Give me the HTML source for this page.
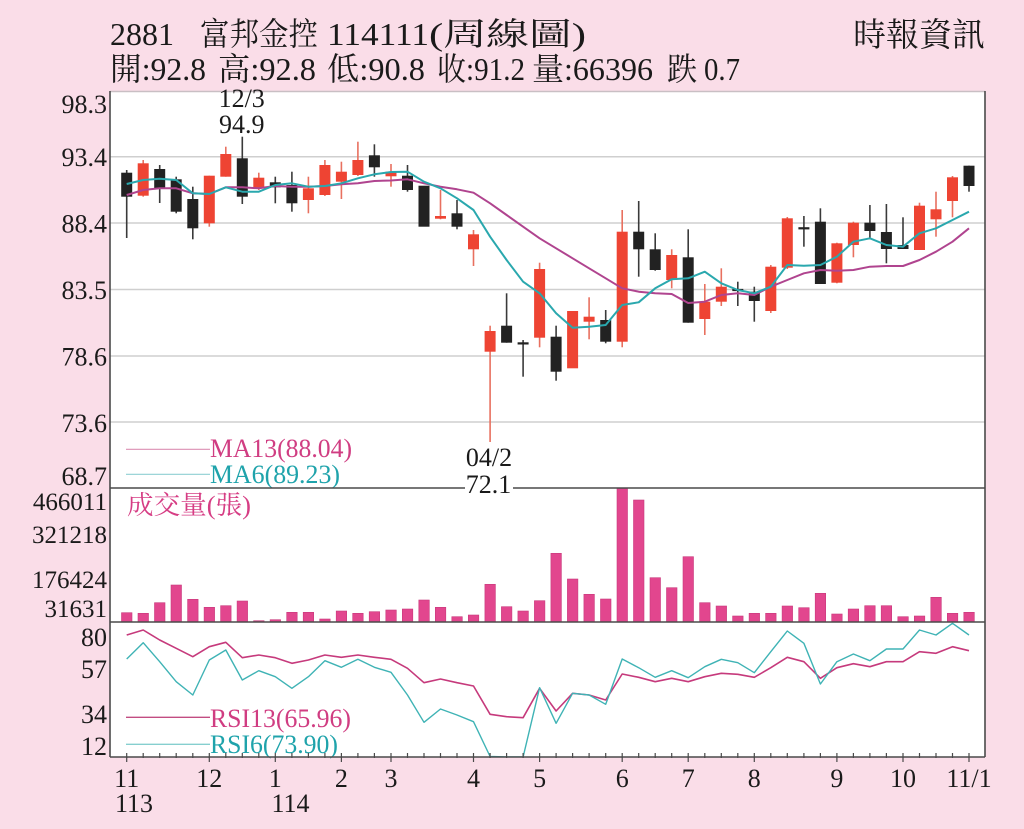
<!DOCTYPE html>
<html><head><meta charset="utf-8"><style>
html,body{margin:0;padding:0;background:#fadde8;}
svg{display:block;}
text{font-family:"Liberation Serif","Noto Serif CJK TC","Noto Serif CJK SC",serif;}
</style></head><body>
<svg width="1024" height="829" viewBox="0 0 1024 829" xmlns="http://www.w3.org/2000/svg">
<defs>
<clipPath id="rsiclip"><rect x="110" y="622" width="875" height="135"/></clipPath>
</defs>
<rect width="1024" height="829" fill="#fadde8"/>
<rect x="110" y="91" width="875" height="666" fill="#ffffff"/>

<g fill="#1a1a1a" font-size="32">
<text x="110" y="45" textLength="64" lengthAdjust="spacingAndGlyphs">2881</text>
<text x="200" y="45" textLength="118" lengthAdjust="spacingAndGlyphs">富邦金控</text>
<text x="327" y="45" textLength="102" lengthAdjust="spacingAndGlyphs">114111</text>
<text x="429" y="45" textLength="157" lengthAdjust="spacingAndGlyphs">(周線圖)</text>
<text x="110" y="80" textLength="96" lengthAdjust="spacingAndGlyphs">開:92.8</text>
<text x="218" y="80" textLength="98" lengthAdjust="spacingAndGlyphs">高:92.8</text>
<text x="327" y="80" textLength="98" lengthAdjust="spacingAndGlyphs">低:90.8</text>
<text x="437" y="80" textLength="88" lengthAdjust="spacingAndGlyphs">收:91.2</text>
<text x="532" y="80" textLength="121" lengthAdjust="spacingAndGlyphs">量:66396</text>
<text x="667" y="80" textLength="30" lengthAdjust="spacingAndGlyphs">跌</text>
<text x="704" y="80" textLength="36" lengthAdjust="spacingAndGlyphs">0.7</text>
<text x="853" y="46" font-size="33" textLength="132" lengthAdjust="spacingAndGlyphs">時報資訊</text>
</g>

<g stroke="#cfcfcf" stroke-width="1.5">
<line x1="110" y1="156.7" x2="985" y2="156.7"/>
<line x1="110" y1="223" x2="985" y2="223"/>
<line x1="110" y1="289.5" x2="985" y2="289.5"/>
<line x1="110" y1="356" x2="985" y2="356"/>
<line x1="110" y1="422" x2="985" y2="422"/>
</g>
<line x1="110" y1="91.5" x2="985" y2="91.5" stroke="#c9bfc4" stroke-width="1.5"/>

<g fill="#1a1a1a" font-size="26" text-anchor="end">
<text x="107" y="113">98.3</text>
<text x="107" y="166">93.4</text>
<text x="107" y="232.5">88.4</text>
<text x="107" y="299">83.5</text>
<text x="107" y="365.5">78.6</text>
<text x="107" y="432">73.6</text>
<text x="107" y="485">68.7</text>
<text x="107" y="510" font-size="25">466011</text>
<text x="107" y="543" font-size="25">321218</text>
<text x="107" y="588" font-size="25">176424</text>
<text x="107" y="617" font-size="25">31631</text>
<text x="107" y="646">80</text>
<text x="107" y="678">57</text>
<text x="107" y="723">34</text>
<text x="107" y="755">12</text>
</g>

<g stroke-width="1.6">
<g stroke="#3a3a3a">
<line x1="126.7" y1="170" x2="126.7" y2="238"/>
<line x1="159.7" y1="165" x2="159.7" y2="203"/>
<line x1="176.2" y1="176.7" x2="176.2" y2="213.3"/>
<line x1="192.8" y1="186.7" x2="192.8" y2="239.3"/>
<line x1="242.3" y1="136.7" x2="242.3" y2="204"/>
<line x1="275.3" y1="176.7" x2="275.3" y2="203.3"/>
<line x1="291.9" y1="171.7" x2="291.9" y2="211.7"/>
<line x1="374.4" y1="144.3" x2="374.4" y2="176.7"/>
<line x1="407.5" y1="165" x2="407.5" y2="191.7"/>
<line x1="457" y1="200" x2="457" y2="229.3"/>
<line x1="506.6" y1="293.3" x2="506.6" y2="342.7"/>
<line x1="523.1" y1="340" x2="523.1" y2="376.7"/>
<line x1="556.1" y1="325.7" x2="556.1" y2="380.7"/>
<line x1="605.7" y1="310" x2="605.7" y2="343.3"/>
<line x1="638.7" y1="201" x2="638.7" y2="276.7"/>
<line x1="655.2" y1="233.3" x2="655.2" y2="270.7"/>
<line x1="688.2" y1="229.3" x2="688.2" y2="322.7"/>
<line x1="737.8" y1="281.7" x2="737.8" y2="306"/>
<line x1="754.3" y1="286.7" x2="754.3" y2="321.7"/>
<line x1="803.9" y1="216" x2="803.9" y2="246.7"/>
<line x1="820.4" y1="208.3" x2="820.4" y2="284"/>
<line x1="869.9" y1="205" x2="869.9" y2="239.3"/>
<line x1="886.4" y1="204" x2="886.4" y2="263.3"/>
<line x1="903" y1="217.3" x2="903" y2="249"/>
<line x1="969" y1="165.7" x2="969" y2="191.7"/>
</g>
<g stroke="#e8705f">
<line x1="143.2" y1="160" x2="143.2" y2="196.7"/>
<line x1="209.3" y1="175.7" x2="209.3" y2="226.7"/>
<line x1="225.8" y1="146.7" x2="225.8" y2="176.7"/>
<line x1="258.8" y1="172.7" x2="258.8" y2="190"/>
<line x1="308.4" y1="176.7" x2="308.4" y2="213.3"/>
<line x1="324.9" y1="160" x2="324.9" y2="196"/>
<line x1="341.4" y1="161.7" x2="341.4" y2="199"/>
<line x1="357.9" y1="141.7" x2="357.9" y2="176"/>
<line x1="391" y1="164" x2="391" y2="186.7"/>
<line x1="440.5" y1="190" x2="440.5" y2="219.3"/>
<line x1="473.5" y1="230" x2="473.5" y2="266"/>
<line x1="490.1" y1="325.7" x2="490.1" y2="442"/>
<line x1="539.6" y1="262.7" x2="539.6" y2="347.3"/>
<line x1="589.1" y1="297.3" x2="589.1" y2="339.3"/>
<line x1="622.2" y1="210" x2="622.2" y2="347.3"/>
<line x1="671.7" y1="249.3" x2="671.7" y2="288.3"/>
<line x1="704.8" y1="284" x2="704.8" y2="335"/>
<line x1="721.3" y1="268.3" x2="721.3" y2="306"/>
<line x1="770.8" y1="265" x2="770.8" y2="313"/>
<line x1="787.3" y1="217" x2="787.3" y2="269"/>
<line x1="836.9" y1="242.7" x2="836.9" y2="283.3"/>
<line x1="853.4" y1="221.7" x2="853.4" y2="257.3"/>
<line x1="919.5" y1="202.7" x2="919.5" y2="250"/>
<line x1="936" y1="191.7" x2="936" y2="236.7"/>
<line x1="952.5" y1="176" x2="952.5" y2="217.3"/>
</g>
</g>

<g fill="#222222">
<rect x="121.2" y="172.7" width="11" height="24"/>
<rect x="154.2" y="169" width="11" height="20"/>
<rect x="170.7" y="179.3" width="11" height="32.4"/>
<rect x="187.3" y="199" width="11" height="29.3"/>
<rect x="236.8" y="158.3" width="11" height="38.4"/>
<rect x="269.8" y="182.3" width="11" height="5"/>
<rect x="286.4" y="185" width="11" height="18.3"/>
<rect x="368.9" y="155.3" width="11" height="12"/>
<rect x="402" y="175.7" width="11" height="14.3"/>
<rect x="418.5" y="185.7" width="11" height="41"/>
<rect x="451.5" y="213.3" width="11" height="13.4"/>
<rect x="501.1" y="325.7" width="11" height="17"/>
<rect x="517.6" y="342.3" width="11" height="2.2"/>
<rect x="550.6" y="336.7" width="11" height="35"/>
<rect x="600.2" y="320" width="11" height="21.7"/>
<rect x="633.2" y="231.7" width="11" height="17.6"/>
<rect x="649.7" y="249.3" width="11" height="20.7"/>
<rect x="682.7" y="257.3" width="11" height="65.4"/>
<rect x="732.3" y="288.9" width="11" height="2.2"/>
<rect x="748.8" y="291.7" width="11" height="9.3"/>
<rect x="798.4" y="227.2" width="11" height="2.2"/>
<rect x="814.9" y="221.7" width="11" height="62.3"/>
<rect x="864.4" y="222.7" width="11" height="8.3"/>
<rect x="880.9" y="232" width="11" height="17"/>
<rect x="897.5" y="245" width="11" height="4"/>
<rect x="963.5" y="165.7" width="11" height="20.3"/>
</g>
<g fill="#ee4433">
<rect x="137.7" y="163.3" width="11" height="32.4"/>
<rect x="203.8" y="175.7" width="11" height="47.6"/>
<rect x="220.3" y="154" width="11" height="22.7"/>
<rect x="253.3" y="177.7" width="11" height="10.6"/>
<rect x="302.9" y="188.3" width="11" height="11.7"/>
<rect x="319.4" y="165" width="11" height="30"/>
<rect x="335.9" y="171.7" width="11" height="10"/>
<rect x="352.4" y="160" width="11" height="15"/>
<rect x="385.5" y="171.7" width="11" height="4.6"/>
<rect x="435" y="216" width="11" height="2.7"/>
<rect x="468" y="234.3" width="11" height="15"/>
<rect x="484.6" y="331" width="11" height="20.7"/>
<rect x="534.1" y="269" width="11" height="68.7"/>
<rect x="567.1" y="311" width="11" height="57.3"/>
<rect x="583.6" y="316.7" width="11" height="5"/>
<rect x="616.7" y="231.7" width="11" height="110"/>
<rect x="666.2" y="255" width="11" height="25"/>
<rect x="699.3" y="301.7" width="11" height="17.3"/>
<rect x="715.8" y="286.7" width="11" height="15"/>
<rect x="765.3" y="266.7" width="11" height="44.3"/>
<rect x="781.8" y="218.3" width="11" height="49.4"/>
<rect x="831.4" y="243.3" width="11" height="39.4"/>
<rect x="847.9" y="222.7" width="11" height="22.3"/>
<rect x="914" y="205.7" width="11" height="44.3"/>
<rect x="930.5" y="209.3" width="11" height="10"/>
<rect x="947" y="177.3" width="11" height="23.7"/>
</g>

<polyline fill="none" stroke="#b0448f" stroke-width="2" stroke-linejoin="round" points="126.7,195 143.2,190 159.7,188.3 176.2,188.3 192.8,193.3 209.3,194 225.8,187.3 242.3,187.3 258.8,188.3 275.3,186 291.9,186.7 308.4,186.7 324.9,186 341.4,184.3 357.9,183.3 374.4,181 391,180.5 407.5,179.3 424,183.3 440.5,186.7 457,189.3 473.5,192.7 490.1,203.3 506.6,215 523.1,226.7 539.6,238.3 556.1,248.3 572.6,258.3 589.1,268.3 605.7,278.3 622.2,288.3 638.7,291.7 655.2,293.3 671.7,294 688.2,303 704.8,301.7 721.3,295 737.8,293.3 754.3,295 770.8,286.7 787.3,280 803.9,273.3 820.4,270 836.9,270.7 853.4,270 869.9,266.7 886.4,266 903,266 919.5,260 936,251.7 952.5,241.7 969,228.3"/>
<polyline fill="none" stroke="#2aa8ae" stroke-width="2" stroke-linejoin="round" points="126.7,184 143.2,180 159.7,178.7 176.2,180 192.8,193.3 209.3,194 225.8,187.3 242.3,191.7 258.8,191.7 275.3,185 291.9,183.3 308.4,186.7 324.9,186 341.4,183.3 357.9,178.3 374.4,174.3 391,172 407.5,171.7 424,181.7 440.5,188.3 457,198.3 473.5,210 490.1,236.7 506.6,260 523.1,281.7 539.6,293.3 556.1,313.3 572.6,327.7 589.1,326.7 605.7,325 622.2,305 638.7,302.3 655.2,288.3 671.7,279.3 688.2,278.3 704.8,271.7 721.3,283.3 737.8,290 754.3,293.3 770.8,286.7 787.3,265 803.9,265.7 820.4,265 836.9,256.7 853.4,241.7 869.9,238.3 886.4,245 903,246.7 919.5,233.3 936,228.3 952.5,220 969,211.7"/>

<g fill="#1a1a1a" font-size="26" text-anchor="middle">
<text x="241.7" y="107">12/3</text>
<text x="241.7" y="133">94.9</text>
<text x="489" y="466">04/2</text>
</g>

<line x1="126" y1="449.3" x2="210" y2="449.3" stroke="#dc8fb2" stroke-width="1.2"/>
<line x1="126" y1="474.3" x2="210" y2="474.3" stroke="#8fcfd2" stroke-width="1.2"/>
<text x="210" y="457" font-size="26" fill="#d03d82" textLength="142" lengthAdjust="spacingAndGlyphs">MA13(88.04)</text>
<text x="210" y="483" font-size="26" fill="#1fa3ab" textLength="130" lengthAdjust="spacingAndGlyphs">MA6(89.23)</text>

<g fill="#e2468e" stroke="#c93a7c" stroke-width="0.6">
<rect x="121.5" y="612.7" width="10.5" height="9.3"/>
<rect x="138" y="613.3" width="10.5" height="8.7"/>
<rect x="154.5" y="602.7" width="10.5" height="19.3"/>
<rect x="171" y="585" width="10.5" height="37"/>
<rect x="187.6" y="599.3" width="10.5" height="22.7"/>
<rect x="204.1" y="607.3" width="10.5" height="14.7"/>
<rect x="220.6" y="605.7" width="10.5" height="16.3"/>
<rect x="237.1" y="601" width="10.5" height="21"/>
<rect x="253.6" y="620.7" width="10.5" height="1.3"/>
<rect x="270.1" y="619.7" width="10.5" height="2.3"/>
<rect x="286.7" y="612.3" width="10.5" height="9.7"/>
<rect x="303.2" y="612.3" width="10.5" height="9.7"/>
<rect x="319.7" y="619" width="10.5" height="3"/>
<rect x="336.2" y="611" width="10.5" height="11"/>
<rect x="352.7" y="613.3" width="10.5" height="8.7"/>
<rect x="369.2" y="611.7" width="10.5" height="10.3"/>
<rect x="385.8" y="610" width="10.5" height="12"/>
<rect x="402.3" y="609" width="10.5" height="13"/>
<rect x="418.8" y="600" width="10.5" height="22"/>
<rect x="435.3" y="607.3" width="10.5" height="14.7"/>
<rect x="451.8" y="616.7" width="10.5" height="5.3"/>
<rect x="468.3" y="615" width="10.5" height="7"/>
<rect x="484.9" y="584.3" width="10.5" height="37.7"/>
<rect x="501.4" y="606.7" width="10.5" height="15.3"/>
<rect x="517.9" y="611" width="10.5" height="11"/>
<rect x="534.4" y="600.7" width="10.5" height="21.3"/>
<rect x="550.9" y="553.3" width="10.5" height="68.7"/>
<rect x="567.4" y="579" width="10.5" height="43"/>
<rect x="583.9" y="594.3" width="10.5" height="27.7"/>
<rect x="600.5" y="599" width="10.5" height="23"/>
<rect x="617" y="488.3" width="10.5" height="133.7"/>
<rect x="633.5" y="500" width="10.5" height="122"/>
<rect x="650" y="577.7" width="10.5" height="44.3"/>
<rect x="666.5" y="587.7" width="10.5" height="34.3"/>
<rect x="683" y="556.7" width="10.5" height="65.3"/>
<rect x="699.6" y="602.7" width="10.5" height="19.3"/>
<rect x="716.1" y="606" width="10.5" height="16"/>
<rect x="732.6" y="616" width="10.5" height="6"/>
<rect x="749.1" y="613.3" width="10.5" height="8.7"/>
<rect x="765.6" y="613.3" width="10.5" height="8.7"/>
<rect x="782.1" y="606" width="10.5" height="16"/>
<rect x="798.7" y="607.7" width="10.5" height="14.3"/>
<rect x="815.2" y="593.3" width="10.5" height="28.7"/>
<rect x="831.7" y="614" width="10.5" height="8"/>
<rect x="848.2" y="609" width="10.5" height="13"/>
<rect x="864.7" y="605.7" width="10.5" height="16.3"/>
<rect x="881.2" y="605.7" width="10.5" height="16.3"/>
<rect x="897.8" y="616.7" width="10.5" height="5.3"/>
<rect x="914.3" y="616" width="10.5" height="6"/>
<rect x="930.8" y="597.3" width="10.5" height="24.7"/>
<rect x="947.3" y="613.3" width="10.5" height="8.7"/>
<rect x="963.8" y="612.3" width="10.5" height="9.7"/>
</g>
<text x="127" y="514" font-size="26" fill="#d63d84" textLength="124" lengthAdjust="spacingAndGlyphs">成交量(張)</text>

<g clip-path="url(#rsiclip)">
<polyline fill="none" stroke="#c63a7c" stroke-width="1.6" stroke-linejoin="round" points="126.7,635 143.2,630 159.7,640 176.2,648.3 192.8,656.7 209.3,646.7 225.8,642.3 242.3,657.7 258.8,655 275.3,657.7 291.9,663.3 308.4,660 324.9,655 341.4,657.3 357.9,655 374.4,657.3 391,659.3 407.5,668.3 424,682.7 440.5,679 457,682.7 473.5,686 490.1,714.3 506.6,716.7 523.1,717.7 539.6,688.3 556.1,711 572.6,693.3 589.1,695 605.7,700 622.2,674 638.7,677.3 655.2,681.7 671.7,678.3 688.2,681.7 704.8,676.7 721.3,673.3 737.8,674.3 754.3,677.3 770.8,667.7 787.3,657.3 803.9,661.7 820.4,678.3 836.9,667.7 853.4,663.7 869.9,666.7 886.4,661.7 903,661.7 919.5,651.7 936,653.3 952.5,646.7 969,650.7"/>
<polyline fill="none" stroke="#3fb3b5" stroke-width="1.4" stroke-linejoin="round" points="126.7,659 143.2,642.7 159.7,661.7 176.2,681.7 192.8,695 209.3,660 225.8,650 242.3,680 258.8,670.7 275.3,676.7 291.9,688.3 308.4,676.7 324.9,660.7 341.4,667.3 357.9,659.3 374.4,667.3 391,672.3 407.5,695 424,722.3 440.5,709 457,715 473.5,721.7 490.1,756.5 506.6,757 523.1,757 539.6,687.7 556.1,723.3 572.6,693.3 589.1,695 605.7,704.3 622.2,659 638.7,667.7 655.2,677.3 671.7,670.7 688.2,677.7 704.8,666.7 721.3,659.3 737.8,662.7 754.3,672.7 770.8,651.7 787.3,631 803.9,643.3 820.4,684 836.9,661.7 853.4,654 869.9,660.7 886.4,649 903,649 919.5,630 936,635 952.5,623.3 969,635"/>
</g>
<line x1="126" y1="717.3" x2="210" y2="717.3" stroke="#c24d82" stroke-width="1.4"/>
<line x1="126" y1="744.3" x2="210" y2="744.3" stroke="#86cfcf" stroke-width="1.4"/>
<text x="210" y="727" font-size="26" fill="#d03d82" textLength="141" lengthAdjust="spacingAndGlyphs">RSI13(65.96)</text>
<text x="210" y="753" font-size="26" fill="#1fa3ab" textLength="128" lengthAdjust="spacingAndGlyphs">RSI6(73.90)</text>

<g stroke="#4a4a4a" stroke-width="1.6">
<line x1="110" y1="91" x2="110" y2="757"/>
<line x1="985" y1="91" x2="985" y2="757"/>
<line x1="110" y1="488" x2="985" y2="488"/>
<line x1="110" y1="622" x2="985" y2="622"/>
<line x1="110" y1="757" x2="985" y2="757"/>
</g>

<rect x="465" y="478" width="48" height="17" fill="#ffffff"/>
<text x="488.5" y="493" font-size="26" fill="#1a1a1a" text-anchor="middle">72.1</text>

<g stroke="#4a4a4a" stroke-width="1.2">
<path d="M126.7 753v5M143.2 753v5M159.7 753v5M176.2 753v5M192.8 753v5M209.3 753v5M225.8 753v5M242.3 753v5M258.8 753v5M275.3 753v5M291.9 753v5M308.4 753v5M324.9 753v5M341.4 753v5M357.9 753v5M374.4 753v5M391 753v5M407.5 753v5M424 753v5M440.5 753v5M457 753v5M473.5 753v5M490.1 753v5M506.6 753v5M523.1 753v5M539.6 753v5M556.1 753v5M572.6 753v5M589.1 753v5M605.7 753v5M622.2 753v5M638.7 753v5M655.2 753v5M671.7 753v5M688.2 753v5M704.8 753v5M721.3 753v5M737.8 753v5M754.3 753v5M770.8 753v5M787.3 753v5M803.9 753v5M820.4 753v5M836.9 753v5M853.4 753v5M869.9 753v5M886.4 753v5M903 753v5M919.5 753v5M936 753v5M952.5 753v5M969 753v5"/>
<path d="M126.7 757v5M209.3 757v5M275.3 757v5M341.4 757v5M391 757v5M473.5 757v5M539.6 757v5M622.2 757v5M688.2 757v5M754.3 757v5M836.9 757v5M903 757v5M969 757v5"/>
</g>

<g fill="#1a1a1a" font-size="26" text-anchor="middle">
<text x="126.7" y="787">11</text>
<text x="209.3" y="787">12</text>
<text x="275.3" y="787">1</text>
<text x="341.4" y="787">2</text>
<text x="391" y="787">3</text>
<text x="473.5" y="787">4</text>
<text x="539.6" y="787">5</text>
<text x="622.2" y="787">6</text>
<text x="688.2" y="787">7</text>
<text x="754.3" y="787">8</text>
<text x="836.9" y="787">9</text>
<text x="903" y="787">10</text>
<text x="969" y="787">11/1</text>
</g>
<g fill="#1a1a1a" font-size="26">
<text x="115" y="812">113</text>
<text x="271.5" y="812">114</text>
</g>
</svg>
</body></html>
